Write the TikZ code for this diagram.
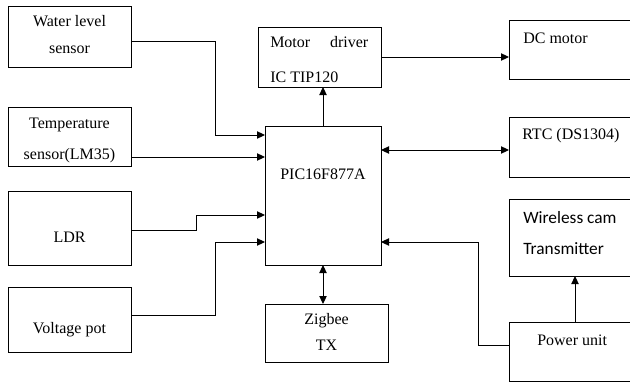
\documentclass[tikz,border=0pt]{standalone}
\usepackage{fontspec}
\setmainfont{Liberation Serif}
\newfontfamily\timesfont{Liberation Serif}
\newfontfamily\calfont{Carlito}
\usetikzlibrary{arrows.meta}
\newcommand\mkbox[5]{\node[box,minimum width={(#4-#2)*0.75pt},minimum height={(#5-#3)*0.75pt}] (#1) at ({(#2+#4)/2},{(#3+#5)/2}) {};}
\begin{document}
\begin{tikzpicture}[x=0.75pt,y=-0.75pt,
 box/.style={draw,line width=0.75pt,inner sep=0pt,outer sep=0pt,rectangle},
 lbl/.style={inner sep=0pt,font=\timesfont\fontsize{12}{14}\selectfont},
 sanslbl/.style={inner sep=0pt,font=\calfont\fontsize{13}{15}\selectfont},
 conn/.style={line width=0.75pt},
 arr/.style={conn,-{Triangle[length=6pt,width=5.5pt]}},
 darr/.style={conn,{Triangle[length=6pt,width=5.5pt]}-{Triangle[length=6pt,width=5.5pt]}}]
\clip (0,0) rectangle (630,382);
% boxes
\mkbox{wl}{8}{6}{131}{67}
\mkbox{tmp}{8}{107}{131}{166}
\mkbox{ldr}{8}{191}{131}{265}
\mkbox{vp}{8}{287}{131}{352}
\mkbox{pic}{265}{126}{381}{265}
\mkbox{md}{258}{27}{381}{87}
\mkbox{zig}{265}{304}{388}{362}
\mkbox{dc}{509}{20}{640}{79}
\mkbox{rtc}{509}{117}{640}{177}
\mkbox{wc}{509}{199}{640}{276}
\mkbox{pu}{509}{322}{640}{381}
% texts
\node[lbl,anchor=base] (twl1) at (69.5,26) {Water level};
\node[lbl,anchor=base] (twl2) at (69.5,53) {sensor};
\node[lbl,anchor=base] (ttmp1) at (69.5,128) {Temperature};
\node[lbl,anchor=base] (ttmp2) at (69.5,159) {sensor(LM35)};
\node[lbl,anchor=base] (tldr) at (69.5,242) {LDR};
\node[lbl,anchor=base] (tvp) at (69.5,333) {Voltage pot};
\node[lbl,anchor=base west] (tmd1) at (270,47) {\makebox[73.5pt][s]{Motor\hfill driver}};
\node[lbl,anchor=base west] (tmd2) at (270,82) {IC TIP120};
\node[lbl,anchor=base] (tpic) at (323,179) {PIC16F877A};
\node[lbl,anchor=base] (tzig1) at (326.5,324) {Zigbee};
\node[lbl,anchor=base] (tzig2) at (326.5,350) {TX};
\node[lbl,anchor=base west] (tdc) at (523,43) {DC motor};
\node[lbl,anchor=base west] (trtc) at (522,139) {RTC (DS1304)};
\node[sanslbl,anchor=base west] (twc1) at (523,223) {Wireless cam};
\node[sanslbl,anchor=base west] (twc2) at (523,254) {Transmitter};
\node[lbl,anchor=base west] (tpu) at (537,345) {Power unit};
% connectors
\draw[arr] (wl.east |- 0,41) -| (215,135) -- (pic.west |- 0,135);
\draw[arr] (tmp.east |- 0,157) -- (pic.west |- 0,157);
\draw[arr] (ldr.east |- 0,230) -| (196,215) -- (pic.west |- 0,215);
\draw[arr] (vp.east |- 0,315) -| (215,242) -- (pic.west |- 0,242);
\draw[arr] (pic.north) -- (pic.north |- md.south);
\draw[arr] (md.east) -- (dc.west |- md.east);
\draw[darr] (pic.east |- 0,150) -- (rtc.west |- 0,150);
\draw[darr] (pic.south) -- (pic.south |- zig.north);
\draw[arr] (pu.west |- 0,345) -| (478,242) -- (pic.east |- 0,242);
\draw[arr] (pu.north -| 575,0) -- (wc.south -| 575,0);
\end{tikzpicture}
\end{document}
